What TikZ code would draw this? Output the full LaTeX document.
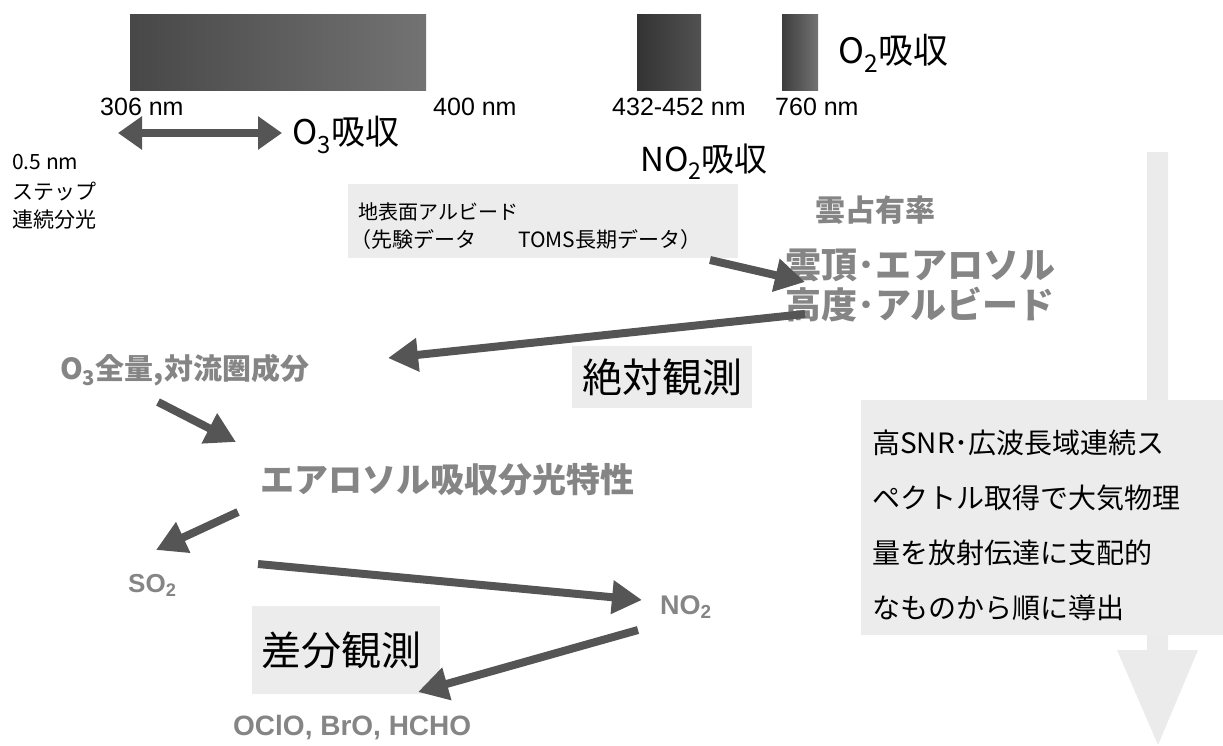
\documentclass[tikz,border=0pt]{standalone}
\usepackage{fontspec}
\setmainfont{Liberation Sans}
\newfontfamily\jp{Noto Sans CJK JP}
\usetikzlibrary{arrows.meta}
\definecolor{arrowgray}{HTML}{555555}
\definecolor{textgray}{HTML}{858585}
\definecolor{boxgray}{HTML}{ECECEC}
\definecolor{biggray}{HTML}{EBEBEB}
\tikzset{
  arr/.style={draw=arrowgray, line width=8pt, -{Triangle[length=30pt,width=32pt]}},
  lbl/.style={inner sep=0pt, anchor=west, font=\fontsize{25}{28}\selectfont},
  jlbl/.style={inner sep=0pt, anchor=west, font=\jp\fontsize{#1}{#1}\selectfont},
  glbl/.style={inner sep=0pt, anchor=west, text=textgray, font=\jp\bfseries\fontsize{#1}{#1}\selectfont},
  glat/.style={inner sep=0pt, anchor=west, text=textgray, font=\bfseries\fontsize{#1}{#1}\selectfont},
  bigtxt/.style={inner sep=0pt, font=\jp\fontsize{40}{40}\selectfont},
}
\begin{document}
\begin{tikzpicture}[x=1pt,y=-1pt]
\useasboundingbox (0,0) rectangle (1223,745);
% big vertical arrow
\fill[biggray] (1147,152) -- (1168,152) -- (1168,650) -- (1198,650) -- (1158,745) -- (1117,650) -- (1147,650) -- cycle;
% spectral bars
\shade[left color=black!72, right color=black!55] (130,14) rectangle (426,90);
\shade[left color=black!80, right color=black!68] (637,14) rectangle (701,90);
\shade[left color=black!76, right color=black!55] (782,14) rectangle (818,90);
\node[lbl] (l306) at (100,107) {306 nm};
\node[lbl] (l400) at (433,107) {400 nm};
\node[lbl] (l432) at (612,107) {432-452 nm};
\node[lbl] (l760) at (775,107) {760 nm};
\node[jlbl=35] (o2) at (838,53) {O\textsubscript{2}吸収};
% double arrow
\coordinate (da1) at (118,133);
\coordinate (da2) at (282,133);
\draw[draw=arrowgray, line width=8pt, {Triangle[length=24pt,width=32pt]}-{Triangle[length=24pt,width=32pt]}] (da1) -- (da2);
\node[jlbl=34] (o3) at (292,135) {O\textsubscript{3}吸収};
\node[jlbl=21] (step1) at (12,162) {0.5 nm};
\node[jlbl=21] (step2) at (12,192) {ステップ};
\node[jlbl=21] (step3) at (12,220) {連続分光};
\node[jlbl=33] (no2a) at (640,162) {NO\textsubscript{2}吸収};
% albedo box
\node[fill=boxgray, minimum width=390pt, minimum height=74pt, inner sep=0pt, anchor=north west] (albbox) at (348,184) {};
\node[jlbl=20] (alb1) at (358,212) {地表面アルビード};
\node[jlbl=21] (alb2) at (350,240) {（先験データ\quad\quad TOMS長期データ）};
% cloud texts
\node[glbl=30] (cf) at (815,210) {雲占有率};
\node[glbl=36] (ct1) at (785,265) {雲頂･エアロソル};
\node[glbl=36] (ct2) at (785,305) {高度･アルビード};
% arrows top
\coordinate (a1s) at (710,260);
\coordinate (a1e) at (805,282);
\draw[arr] (a1s) -- (a1e);
\coordinate (a2s) at (805,314);
\coordinate (a2e) at (388,358);
\draw[arr] (a2s) -- (a2e);
\node[glbl=29] (o3t) at (60,370) {O\textsubscript{3}全量,対流圏成分};
\node[fill=boxgray, minimum width=180pt, minimum height=62pt, inner sep=0pt] (absbox) at (662,377) {};
\node[bigtxt] (abs) at (absbox) {絶対観測};
\coordinate (a3s) at (158,402);
\coordinate (a3e) at (236,442);
\draw[arr] (a3s) -- (a3e);
\node[glbl=34] (aer) at (260,480) {エアロソル吸収分光特性};
\coordinate (a4s) at (238,512);
\coordinate (a4e) at (156,550);
\draw[arr] (a4s) -- (a4e);
\node[glat=26] (so2) at (128,585) {SO\textsubscript{2}};
\coordinate (a5s) at (258,564);
\coordinate (a5e) at (642,600);
\draw[arr] (a5s) -- (a5e);
\node[glat=27] (no2) at (660,607) {NO\textsubscript{2}};
\node[fill=boxgray, minimum width=188pt, minimum height=88pt, inner sep=0pt] (difbox) at (346,650) {};
\node[bigtxt] (dif) at (341,650) {差分観測};
\coordinate (a6s) at (638,630);
\coordinate (a6e) at (418,692);
\draw[arr] (a6s) -- (a6e);
\node[glat=28] (ocl) at (233,728) {OClO, BrO, HCHO};
% right text box
\node[fill=boxgray, minimum width=362pt, minimum height=235pt, inner sep=0pt, anchor=north west] (rbox) at (861,400) {};
\node[jlbl=28] (r1) at (872,443) {高SNR･広波長域連続ス};
\node[jlbl=28] (r2) at (872,498) {ペクトル取得で大気物理};
\node[jlbl=28] (r3) at (872,553) {量を放射伝達に支配的};
\node[jlbl=28] (r4) at (872,608) {なものから順に導出};
\end{tikzpicture}
\end{document}
